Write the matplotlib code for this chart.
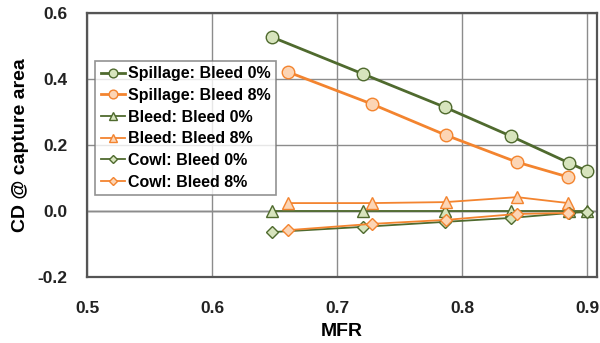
import numpy as np
from matplotlib import pyplot as plt

plt.rcParams['font.family'] = ['Liberation Sans', 'DejaVu Sans']
plt.rcParams['font.weight'] = 'bold'

# MFR / CD values
mfr_0 = [0.648, 0.721, 0.786, 0.839, 0.886, 0.900]
mfr_8 = [0.661, 0.728, 0.787, 0.844, 0.885]

spill_0 = [0.527, 0.415, 0.315, 0.227, 0.145, 0.121]
spill_8 = [0.421, 0.324, 0.230, 0.148, 0.103]
bleed_0 = [0.0, 0.0, 0.0, 0.0, 0.0, 0.0]
bleed_8 = [0.024, 0.024, 0.027, 0.042, 0.024]
cowl_0 = [-0.064, -0.048, -0.033, -0.021, -0.006, -0.003]
cowl_8 = [-0.058, -0.039, -0.027, -0.009, -0.006]

green = '#4f6a2e'
green_face = '#d7e4bd'
orange = '#f3842f'
orange_face = '#fcd5b5'

fig = plt.figure(figsize=(6, 3.43), dpi=100)
ax = fig.add_axes([87 / 600, 1 - 277 / 343, 510 / 600, 264 / 343])

ax.plot(mfr_0, spill_0, '-o', color=green, mfc=green_face, mec=green, ms=9, lw=2,
        label='Spillage: Bleed 0%', zorder=5)
ax.plot(mfr_8, spill_8, '-o', color=orange, mfc=orange_face, mec=orange, ms=9, lw=2,
        label='Spillage: Bleed 8%', zorder=5)
ax.plot(mfr_0, bleed_0, '-^', color=green, mfc=green_face, mec=green, ms=8, lw=1.3,
        label='Bleed: Bleed 0%', zorder=4)
ax.plot(mfr_8, bleed_8, '-^', color=orange, mfc=orange_face, mec=orange, ms=8, lw=1.3,
        label='Bleed: Bleed 8%', zorder=4)
ax.plot(mfr_0, cowl_0, '-D', color=green, mfc=green_face, mec=green, ms=6.5, lw=1.3,
        label='Cowl: Bleed 0%', zorder=4)
ax.plot(mfr_8, cowl_8, '-D', color=orange, mfc=orange_face, mec=orange, ms=6.5, lw=1.3,
        label='Cowl: Bleed 8%', zorder=4)

ax.set_xlim(0.5, 0.908)
ax.set_ylim(-0.2, 0.6)
ax.set_xticks([0.5, 0.6, 0.7, 0.8, 0.9])
ax.set_yticks([-0.2, 0.0, 0.2, 0.4, 0.6])
ax.set_xticklabels(['0.5', '0.6', '0.7', '0.8', '0.9'])
ax.set_yticklabels(['-0.2', '0.0', '0.2', '0.4', '0.6'])
ax.tick_params(length=0, labelsize=12.5, colors='#222222')
ax.tick_params(axis='x', pad=17)
ax.tick_params(axis='y', pad=14)
ax.grid(True, color='#8c8c8c', lw=1)
ax.axhline(0, color='#333333', lw=1, zorder=1)
for s in ax.spines.values():
    s.set_color('#555555')
    s.set_linewidth(1.6)

ax.set_xlabel('MFR', fontsize=14, fontweight='bold', labelpad=5)
ax.set_ylabel('CD @ capture area', fontsize=14, fontweight='bold', labelpad=6)

leg = ax.legend(loc='upper left', bbox_to_anchor=(0.0, 0.85), fontsize=11.5,
                frameon=True, fancybox=False, edgecolor='#777777',
                handlelength=1.5, handletextpad=0.2, borderpad=0.35,
                labelspacing=0.42, markerscale=0.7)
leg.get_frame().set_linewidth(1.2)

fig.savefig('out.png', dpi=100)
